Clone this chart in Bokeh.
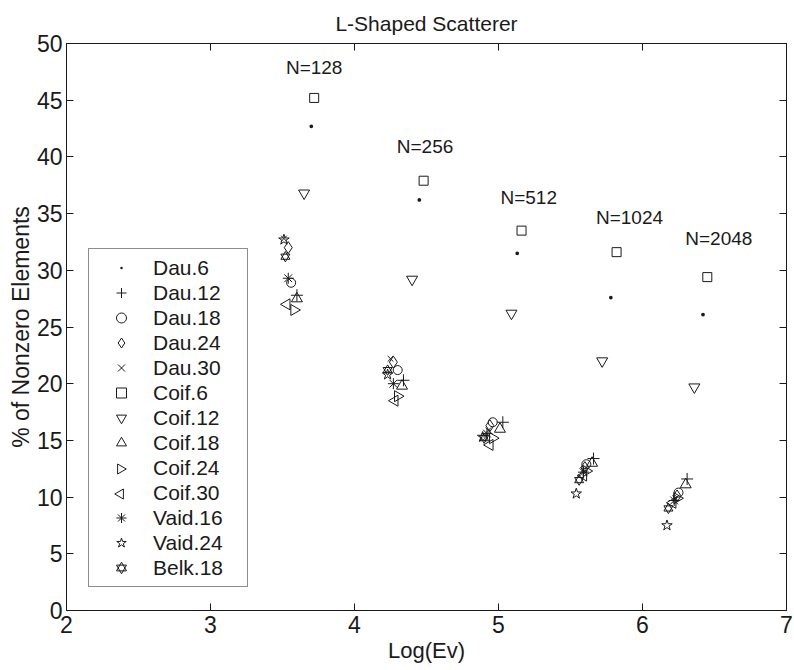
import math
from bokeh.plotting import figure
from bokeh.models import (Range1d, LinearAxis, Legend, LegendItem, FixedTicker,
                          ColumnDataSource, LabelSet)
from bokeh.embed import file_html
from bokeh.resources import INLINE
from bokeh.core.properties import value

# ---- data: Log(Ev) and % nonzero for N = 128, 256, 512, 1024, 2048 ----
dau6_x = [3.70, 4.45, 5.13, 5.78, 6.42]
dau6_y = [42.7, 36.2, 31.5, 27.6, 26.1]
dau12_x = [3.60, 4.34, 5.03, 5.66, 6.31]
dau12_y = [27.8, 20.3, 16.6, 13.4, 11.6]
dau18_x = [3.56, 4.30, 4.96, 5.61, 6.25]
dau18_y = [28.9, 21.2, 16.6, 12.9, 10.4]
dau24_x = [3.54, 4.27, 4.94, 5.60, 6.24]
dau24_y = [32.0, 21.9, 16.3, 12.6, 10.1]
dau30_x = [3.51, 4.25, 4.93, 5.59, 6.23]
dau30_y = [32.8, 22.2, 15.9, 12.4, 9.9]
coif6_x = [3.72, 4.48, 5.16, 5.82, 6.45]
coif6_y = [45.2, 37.9, 33.5, 31.6, 29.4]
coif12_x = [3.65, 4.40, 5.09, 5.72, 6.36]
coif12_y = [36.8, 29.2, 26.2, 22.0, 19.7]
coif18_x = [3.60, 4.33, 5.01, 5.65, 6.30]
coif18_y = [27.5, 19.8, 16.0, 13.0, 11.1]
coif24_x = [3.58, 4.30, 4.96, 5.61, 6.24]
coif24_y = [26.5, 18.9, 15.2, 12.3, 9.9]
coif30_x = [3.53, 4.28, 4.94, 5.59, 6.21]
coif30_y = [27.0, 18.5, 14.6, 11.9, 9.5]
vaid16_x = [3.54, 4.27, 4.92, 5.59, 6.22]
vaid16_y = [29.3, 20.0, 15.6, 12.2, 9.7]
vaid24_x = [3.51, 4.23, 4.89, 5.54, 6.17]
vaid24_y = [32.7, 20.8, 15.3, 10.3, 7.5]
belk18_x = [3.52, 4.23, 4.90, 5.56, 6.18]
belk18_y = [31.2, 21.2, 15.2, 11.5, 9.0]

n_labels = ["N=128", "N=256", "N=512", "N=1024", "N=2048"]
n_label_x = [3.72, 4.49, 5.21, 5.91, 6.53]
n_label_y = [47.9, 40.9, 36.4, 34.7, 32.8]

x_ticks = [2, 3, 4, 5, 6, 7]
y_ticks = [0, 5, 10, 15, 20, 25, 30, 35, 40, 45, 50]

TITLE = "L-Shaped Scatterer"
FONT = "Liberation Sans"
INK = "#1a1a1a"

W, H = 794, 670
BL, BR, BT, BB = 66, 8, 43, 60
X0, X1, Y0, Y1 = 2, 7, 0, 50
FW, FH = W - BL - BR, H - BT - BB

p = figure(width=W, height=H, output_backend="svg", toolbar_location=None,
           x_range=Range1d(X0, X1), y_range=Range1d(Y0, Y1),
           min_border_left=BL, min_border_right=BR, min_border_top=BT, min_border_bottom=BB,
           title=TITLE)
p.title.align = "center"
p.title.text_font = FONT
p.title.text_font_style = "normal"
p.title.text_font_size = "21px"
p.title.text_color = INK
p.title.vertical_align = "middle"
p.title.standoff = 16
p.xgrid.visible = False
p.ygrid.visible = False
p.outline_line_color = INK
p.outline_line_width = 1
p.background_fill_color = "white"
p.border_fill_color = "white"

for ax in p.xaxis:
    ax.ticker = FixedTicker(ticks=x_ticks)
    ax.axis_label = "Log(Ev)"
for ax in p.yaxis:
    ax.ticker = FixedTicker(ticks=y_ticks)
    ax.axis_label = "% of Nonzero Elements"
for ax in [p.xaxis[0], p.yaxis[0]]:
    ax.major_tick_in = 7
    ax.major_tick_out = 0
    ax.minor_tick_line_color = None
    ax.axis_line_color = INK
    ax.major_tick_line_color = INK
    ax.major_label_text_font = FONT
    ax.major_label_text_font_size = "23px"
    ax.major_label_text_color = INK
    ax.axis_label_text_font = FONT
    ax.axis_label_text_font_style = "normal"
    ax.axis_label_text_color = INK
p.xaxis[0].axis_label_text_font_size = "22px"
p.yaxis[0].axis_label_text_font_size = "23px"
p.xaxis[0].axis_label_standoff = 2
p.yaxis[0].axis_label_standoff = 0
p.xaxis[0].major_label_standoff = 5
p.yaxis[0].major_label_standoff = 4

top = LinearAxis(ticker=FixedTicker(ticks=x_ticks),
                 major_label_overrides={t: "" for t in x_ticks},
                 major_label_standoff=0,
                 major_tick_in=7, major_tick_out=0, minor_tick_line_color=None,
                 axis_line_color=INK, major_tick_line_color=INK)
right = LinearAxis(ticker=FixedTicker(ticks=y_ticks),
                   major_label_overrides={t: "" for t in y_ticks},
                   major_label_standoff=0,
                   major_tick_in=7, major_tick_out=0, minor_tick_line_color=None,
                   axis_line_color=INK, major_tick_line_color=INK)
p.add_layout(top, "above")
p.add_layout(right, "right")

# legend geometry (screen px)
LOC = (22, 23)
PAD = 6
GW, GH = 52, 25
SP = 0
N_ITEMS = 13

def legend_center(i):
    box_h = 2 * PAD + N_ITEMS * GH + (N_ITEMS - 1) * SP
    px = LOC[0] + PAD + GW / 2
    py = LOC[1] + box_h - PAD - i * (GH + SP) - GH / 2
    return X0 + px * (X1 - X0) / FW, Y0 + py * (Y1 - Y0) / FH

series = [
    ("Dau.6", dau6_x, dau6_y, [("dot", 15, 0)]),
    ("Dau.12", dau12_x, dau12_y, [("cross", 12, 0)]),
    ("Dau.18", dau18_x, dau18_y, [("circle", 9, 0)]),
    ("Dau.24", dau24_x, dau24_y, [("diamond", 12, 0)]),
    ("Dau.30", dau30_x, dau30_y, [("x", 8, 0)]),
    ("Coif.6", coif6_x, coif6_y, [("square", 9, 0)]),
    ("Coif.12", coif12_x, coif12_y, [("inverted_triangle", 11, 0)]),
    ("Coif.18", coif18_x, coif18_y, [("triangle", 11, 0)]),
    ("Coif.24", coif24_x, coif24_y, [("triangle", 11, -math.pi / 2)]),
    ("Coif.30", coif30_x, coif30_y, [("triangle", 11, math.pi / 2)]),
    ("Vaid.16", vaid16_x, vaid16_y, [("asterisk", 11, 0)]),
    ("Vaid.24", vaid24_x, vaid24_y, [("star", 11, 0)]),
    ("Belk.18", belk18_x, belk18_y, [("triangle", 9, 0), ("inverted_triangle", 9, 0)]),
]

items = []
for i, (name, xs, ys, markers) in enumerate(series):
    src = ColumnDataSource(dict(x=xs, y=ys))
    rs = []
    for m, size, ang in markers:
        r = p.scatter("x", "y", source=src, marker=m, size=size, angle=ang,
                      fill_color=INK if m == "dot" else None,
                      line_color=INK, line_width=1)
        rs.append(r)
    rotated = any(a != 0 for _, _, a in markers)
    if rotated:
        # legend entry symbol drawn as a rotated marker (legend glyphs ignore angle)
        ghost = p.scatter([xs[0]], [ys[0]], marker="triangle", size=1, alpha=0)
        lx, ly = legend_center(i)
        p.scatter([lx], [ly], marker="triangle", size=10, angle=markers[0][2],
                  fill_color=None, line_color=INK, line_width=1)
        items.append(LegendItem(label=name, renderers=[ghost]))
    else:
        items.append(LegendItem(label=name, renderers=rs))

legend = Legend(items=items, location=LOC, label_text_font=FONT,
                label_text_font_size="21px", label_text_color=INK,
                label_height=GH, glyph_height=GH, glyph_width=GW, spacing=SP,
                padding=PAD, margin=0, label_standoff=6, label_width=88,
                border_line_color=INK, border_line_width=1, background_fill_alpha=0)
p.add_layout(legend, "center")

lab_src = ColumnDataSource(dict(x=n_label_x, y=n_label_y, t=n_labels))
labels = LabelSet(x="x", y="y", text="t", source=lab_src, text_font=value(FONT),
                  text_font_size="19px", text_color=INK,
                  text_align="center", text_baseline="middle")
p.add_layout(labels)

open("out.html", "w").write(file_html(p, INLINE))
